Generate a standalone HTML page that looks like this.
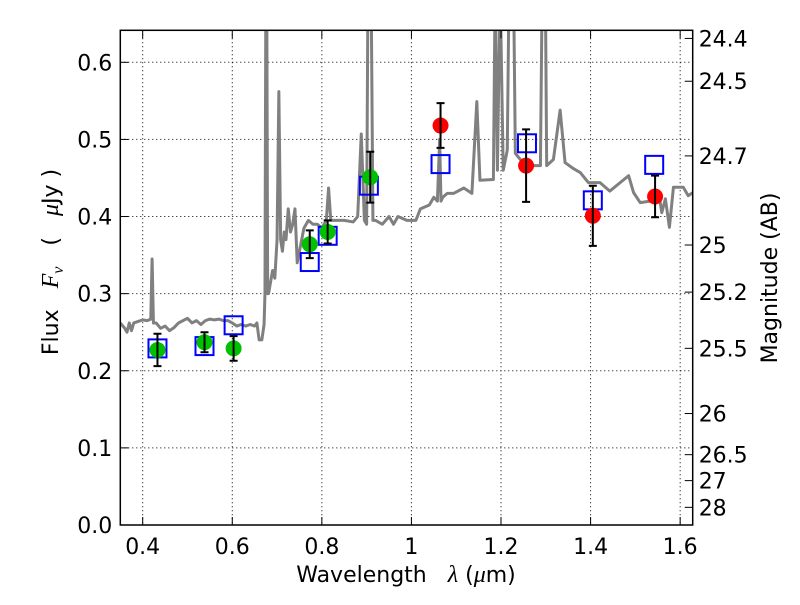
<!DOCTYPE html>
<html><head><meta charset="utf-8"><style>
body{margin:0;background:#fff;}
svg text{font-family:"DejaVu Sans","Liberation Sans",sans-serif;fill:#000;}
</style></head><body>
<svg id="chart" width="800" height="600" xmlns="http://www.w3.org/2000/svg">
<rect width="800" height="600" fill="#fff"/>
<g id="grid"></g>
<g id="spec"></g>
<g id="marks"></g>
<g id="axes"></g>
<text x="406" y="582" font-size="22" text-anchor="middle" xml:space="preserve">Wavelength   <tspan font-family="Liberation Serif" font-style="italic" font-size="24">λ</tspan> (<tspan font-family="Liberation Serif" font-style="italic" font-size="24">μ</tspan>m)</text>
<text transform="translate(58,262) rotate(-90)" font-size="22" text-anchor="middle" xml:space="preserve">Flux   <tspan font-family="Liberation Serif" font-style="italic" font-size="24">F<tspan font-size="16" dy="5">ν</tspan></tspan><tspan dy="-5">   (   </tspan><tspan font-family="Liberation Serif" font-style="italic" font-size="24">μ</tspan>Jy )</text>
<text transform="translate(777,278) rotate(-90)" font-size="22" text-anchor="middle">Magnitude (AB)</text>
</svg>
<script>
const specWave=[0.35,0.36,0.365,0.37,0.375,0.38,0.39,0.40,0.41,0.418,0.421,0.424,0.43,0.44,0.45,0.46,0.47,0.48,0.49,0.50,0.51,0.52,0.53,0.54,0.55,0.56,0.57,0.58,0.59,0.60,0.61,0.62,0.63,0.64,0.65,0.655,0.66,0.666,0.671,0.673,0.675,0.677,0.679,0.681,0.69,0.695,0.70,0.704,0.708,0.712,0.716,0.72,0.725,0.73,0.735,0.74,0.745,0.755,0.76,0.77,0.78,0.79,0.80,0.81,0.815,0.82,0.85,0.87,0.88,0.888,0.895,0.90,0.903,0.906,0.91,0.914,0.92,0.935,0.95,0.96,0.97,0.99,1.01,1.02,1.04,1.05,1.058,1.063,1.066,1.07,1.08,1.094,1.117,1.135,1.146,1.153,1.183,1.187,1.192,1.198,1.205,1.214,1.218,1.224,1.228,1.232,1.243,1.273,1.288,1.292,1.295,1.299,1.302,1.317,1.332,1.343,1.362,1.377,1.395,1.421,1.443,1.466,1.485,1.496,1.511,1.533,1.552,1.559,1.567,1.576,1.585,1.607,1.618,1.628];
const specFlux=[0.262,0.255,0.25,0.262,0.252,0.262,0.264,0.266,0.265,0.267,0.345,0.262,0.262,0.255,0.258,0.252,0.256,0.262,0.265,0.268,0.262,0.265,0.26,0.265,0.267,0.266,0.267,0.265,0.265,0.262,0.258,0.26,0.258,0.26,0.258,0.262,0.24,0.24,0.26,0.30,0.7,0.7,0.30,0.30,0.33,0.32,0.37,0.562,0.37,0.355,0.38,0.37,0.41,0.38,0.39,0.41,0.34,0.37,0.385,0.395,0.39,0.39,0.385,0.395,0.437,0.395,0.395,0.393,0.40,0.507,0.395,0.39,0.7,0.7,0.7,0.395,0.395,0.39,0.40,0.39,0.40,0.395,0.395,0.41,0.415,0.425,0.42,0.50,0.42,0.425,0.43,0.43,0.437,0.43,0.549,0.447,0.448,0.7,0.46,0.7,0.46,0.486,0.7,0.7,0.7,0.482,0.474,0.466,0.466,0.7,0.7,0.7,0.466,0.474,0.538,0.47,0.462,0.457,0.444,0.444,0.433,0.444,0.453,0.431,0.418,0.42,0.431,0.405,0.423,0.386,0.438,0.438,0.427,0.431];
const photWave=[0.433,0.538,0.603,0.773,0.813,0.908,1.065,1.256,1.405,1.544];
const photFlux=[0.227,0.237,0.229,0.364,0.380,0.451,0.518,0.466,0.401,0.426];
const photErr=[0.021,0.013,0.016,0.018,0.015,0.033,0.029,0.047,0.039,0.027];
const photColor=['#00c000','#00c000','#00c000','#00c000','#00c000','#00c000','#ff0000','#ff0000','#ff0000','#ff0000'];
const modelWave=[0.433,0.538,0.603,0.773,0.813,0.905,1.065,1.258,1.405,1.542];
const modelFlux=[0.229,0.232,0.259,0.341,0.375,0.440,0.468,0.495,0.421,0.467];
const xTicks=[0.4,0.6,0.8,1.0,1.2,1.4,1.6];
const xTickLabels=['0.4','0.6','0.8','1','1.2','1.4','1.6'];
const yTicks=[0,0.1,0.2,0.3,0.4,0.5,0.6];
const yTickLabels=['0.0','0.1','0.2','0.3','0.4','0.5','0.6'];
const magTicks=[24.4,24.5,24.7,25,25.2,25.5,26,26.5,27,28];

const L=120.3,R=692.7,T=30.3,B=525,X0=0.35,X1=1.628,Y0=0,Y1=0.6415;
const sx=v=>L+(v-X0)/(X1-X0)*(R-L);
const sy=v=>B-(v-Y0)/(Y1-Y0)*(B-T);
const NS='http://www.w3.org/2000/svg';
function mk(tag,attrs,parent){const e=document.createElementNS(NS,tag);for(const k in attrs)e.setAttribute(k,attrs[k]);parent.appendChild(e);return e;}
const grid=document.getElementById('grid'),axes=document.getElementById('axes'),spec=document.getElementById('spec'),marks=document.getElementById('marks');
xTicks.forEach((v,i)=>{
  const g=mk('line',{x1:sx(v),x2:sx(v),y1:T,y2:B,stroke:'#000','stroke-width':1,'stroke-dasharray':'1,3'},grid);
  
  
  mk('line',{x1:sx(v),x2:sx(v),y1:B,y2:B-8,stroke:'#000'},axes);
  mk('line',{x1:sx(v),x2:sx(v),y1:T,y2:T+8,stroke:'#000'},axes);
  const t=mk('text',{x:sx(v),y:B+29,'font-size':22,'text-anchor':'middle'},axes);t.textContent=xTickLabels[i];
  
  
});
yTicks.forEach((v,i)=>{
  const g=mk('line',{x1:L,x2:R,y1:sy(v),y2:sy(v),stroke:'#000','stroke-width':1,'stroke-dasharray':'1,3'},grid);
  
  
  mk('line',{x1:L,x2:L+8,y1:sy(v),y2:sy(v),stroke:'#000'},axes);
  const t=mk('text',{x:L-8,y:sy(v)+8,'font-size':22,'text-anchor':'end'},axes);t.textContent=yTickLabels[i];
  
  
});
magTicks.forEach(m=>{
  const f=Math.pow(10,(23.9-m)/2.5);const y=sy(f);
  mk('line',{x1:R,x2:R-8,y1:y,y2:y,stroke:'#000'},axes);
  const t=mk('text',{x:R+6,y:y+8,'font-size':22},axes);t.textContent=String(m);
  
  
});
const frame=mk('rect',{x:L,y:T,width:R-L,height:B-T,fill:'none',stroke:'#000','stroke-width':1.5},axes);


const cp=mk('clipPath',{id:'clip'},spec);mk('rect',{x:L,y:T,width:R-L,height:B-T},cp);
const pl=mk('polyline',{points:specWave.map((w,i)=>sx(w)+','+sy(specFlux[i])).join(' '),fill:'none',stroke:'#808080','stroke-width':3,'stroke-linejoin':'round','clip-path':'url(#clip)'},spec);


modelWave.forEach((w,i)=>{
  const r=mk('rect',{x:sx(w)-9,y:sy(modelFlux[i])-9,width:18,height:18,fill:'none',stroke:'#0000ff','stroke-width':2},marks);
  
  
});
photWave.forEach((w,i)=>{
  const c=mk('circle',{cx:sx(w),cy:sy(photFlux[i]),r:8,fill:photColor[i]},marks);
  
  
  const x=sx(w),y1=sy(photFlux[i]+photErr[i]),y2=sy(photFlux[i]-photErr[i]);
  const e=mk('path',{d:`M${x},${y1}V${y2}M${x-4},${y1}H${x+4}M${x-4},${y2}H${x+4}`,stroke:'#000','stroke-width':2,fill:'none'},marks);
  
  
});
</script>
</body></html>
